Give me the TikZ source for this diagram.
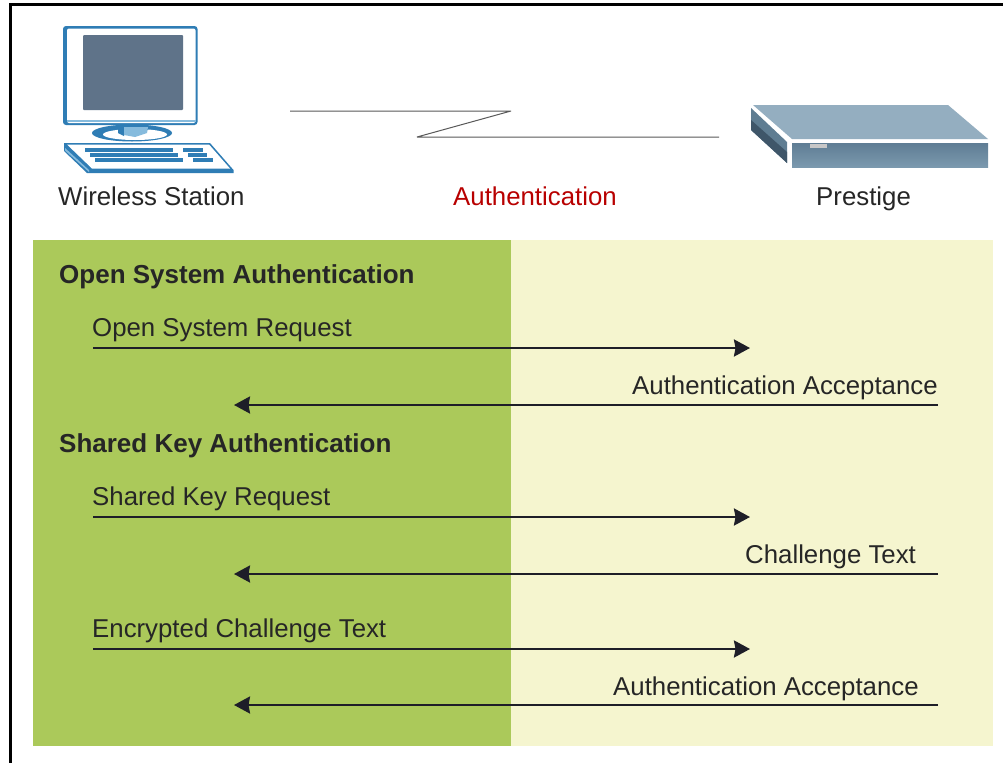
\documentclass[tikz,border=0pt]{standalone}
\usepackage{fontspec}
\setmainfont{Liberation Sans}
\usetikzlibrary{arrows.meta}
\definecolor{leftg}{HTML}{ABC95A}
\definecolor{rightc}{HTML}{F5F5CF}
\definecolor{ink}{HTML}{1E1E28}
\definecolor{pcb}{HTML}{2F7DB5}
\definecolor{scr}{HTML}{5F7389}
\definecolor{lb}{HTML}{86BBDD}
\definecolor{devtop}{HTML}{94AEC0}
\definecolor{devfronta}{HTML}{5F7D94}
\definecolor{devfrontb}{HTML}{7B99AE}
\definecolor{devside}{HTML}{5F7D92}
\definecolor{devdark}{HTML}{3F5669}
\tikzset{
  lab/.style={inner sep=0pt,font=\fontsize{25.8}{26}\selectfont,text=black!85,anchor=base west},
  head/.style={inner sep=0pt,font=\fontsize{26}{26}\selectfont\bfseries,text=black!85,anchor=base west},
  msg/.style={draw=ink,line width=2.4pt,-{Stealth[length=16pt,width=17pt,inset=1.5pt]}},
  zig/.style={draw=black!65,line width=1pt,line join=bevel},
  kb/.style={draw=pcb,line width=3.2pt}
}
\begin{document}
\begin{tikzpicture}[x=1pt,y=-1pt]
\useasboundingbox (0,0) rectangle (1003,763);
\fill[white] (0,0) rectangle (1003,763);
% frame
\fill[black] (9,3) rectangle (1003,6);
\fill[black] (9,3) rectangle (12,763);
% panels
\fill[leftg] (33,240) rectangle (511,746);
\fill[rightc] (511,240) rectangle (993,746);
% computer: monitor
\fill[pcb,rounded corners=3pt] (63,26) rectangle (197.5,125);
\fill[white,rounded corners=2pt] (67,28.5) rectangle (195.5,123);
\fill[lb] (67,120) rectangle (195.5,122);
\fill[scr,rounded corners=1pt] (83,35) rectangle (183,110);
% computer: stand
\fill[pcb] (132,133) ellipse [x radius=40, y radius=8.5];
\fill[white] (135,134.5) ellipse [x radius=32, y radius=5.5];
\fill[pcb] (118,125) -- (148,125) -- (148,130) -- (124,130) -- (124,136) -- (118,133) -- cycle;
\fill[lb] (124,127) -- (148,127) -- (147,133) -- (135,137) -- (124,135) -- cycle;
% computer: keyboard
\fill[pcb] (64,143) -- (210,143) -- (233.5,170) -- (233.5,173) -- (87,173) -- (64,151) -- cycle;
\fill[white] (67,144.5) -- (209,144.5) -- (230,168.5) -- (92,168.5) -- cycle;
\fill[lb] (65,148) -- (89,170) -- (89,172) -- (65,150.5) -- cycle;
\draw[kb] (85,150) -- (173,150) (90,155) -- (178,155) (95,160) -- (183,160);
\draw[kb] (183,150) -- (203,150) (188,155) -- (207,155) (193,160) -- (213,160);
% device
\fill[devtop] (753,105) -- (948,105) -- (988,139) -- (792,139) -- cycle;
\shade[top color=devfronta,bottom color=devfrontb] (792,143) rectangle (988,167);
\fill[devside] (751,108) -- (787,142) -- (787,163) -- (751,130) -- cycle;
\fill[devdark] (751,120) -- (787,152) -- (787,163) -- (751,130) -- cycle;
\fill[black!22] (810,144) rectangle (827,148);
% labels
\node[lab] (ws) at (58,205) {Wireless Station};
\node[lab,text=red!72!black] (au) at (453,205) {Authentication};
\node[lab] (pr) at (816,205) {Prestige};
% zigzag
\coordinate (z1) at (290,111);
\coordinate (z2) at (511,111);
\coordinate (z3) at (417,137);
\coordinate (z4) at (719,137);
\draw[zig] (z1) -- (z2) -- (z3) -- (z4);
% text
\node[head] (h1) at (59,283) {Open System Authentication};
\node[lab] (t1) at (92,336) {Open System Request};
\node[lab] (t2) at (632,394) {Authentication Acceptance};
\node[head] (h2) at (59,452) {Shared Key Authentication};
\node[lab] (t3) at (92,505) {Shared Key Request};
\node[lab] (t4) at (745,563) {Challenge Text};
\node[lab] (t5) at (92,637) {Encrypted Challenge Text};
\node[lab] (t6) at (613,695) {Authentication Acceptance};
% arrows
\coordinate (a1s) at (93,348); \coordinate (a1e) at (750,348);
\coordinate (a2s) at (938,405); \coordinate (a2e) at (234,405);
\coordinate (a3s) at (93,517); \coordinate (a3e) at (750,517);
\coordinate (a4s) at (938,574); \coordinate (a4e) at (234,574);
\coordinate (a5s) at (93,649); \coordinate (a5e) at (750,649);
\coordinate (a6s) at (938,705); \coordinate (a6e) at (234,705);
\draw[msg] (a1s) -- (a1e);
\draw[msg] (a2s) -- (a2e);
\draw[msg] (a3s) -- (a3e);
\draw[msg] (a4s) -- (a4e);
\draw[msg] (a5s) -- (a5e);
\draw[msg] (a6s) -- (a6e);
\end{tikzpicture}
\end{document}
